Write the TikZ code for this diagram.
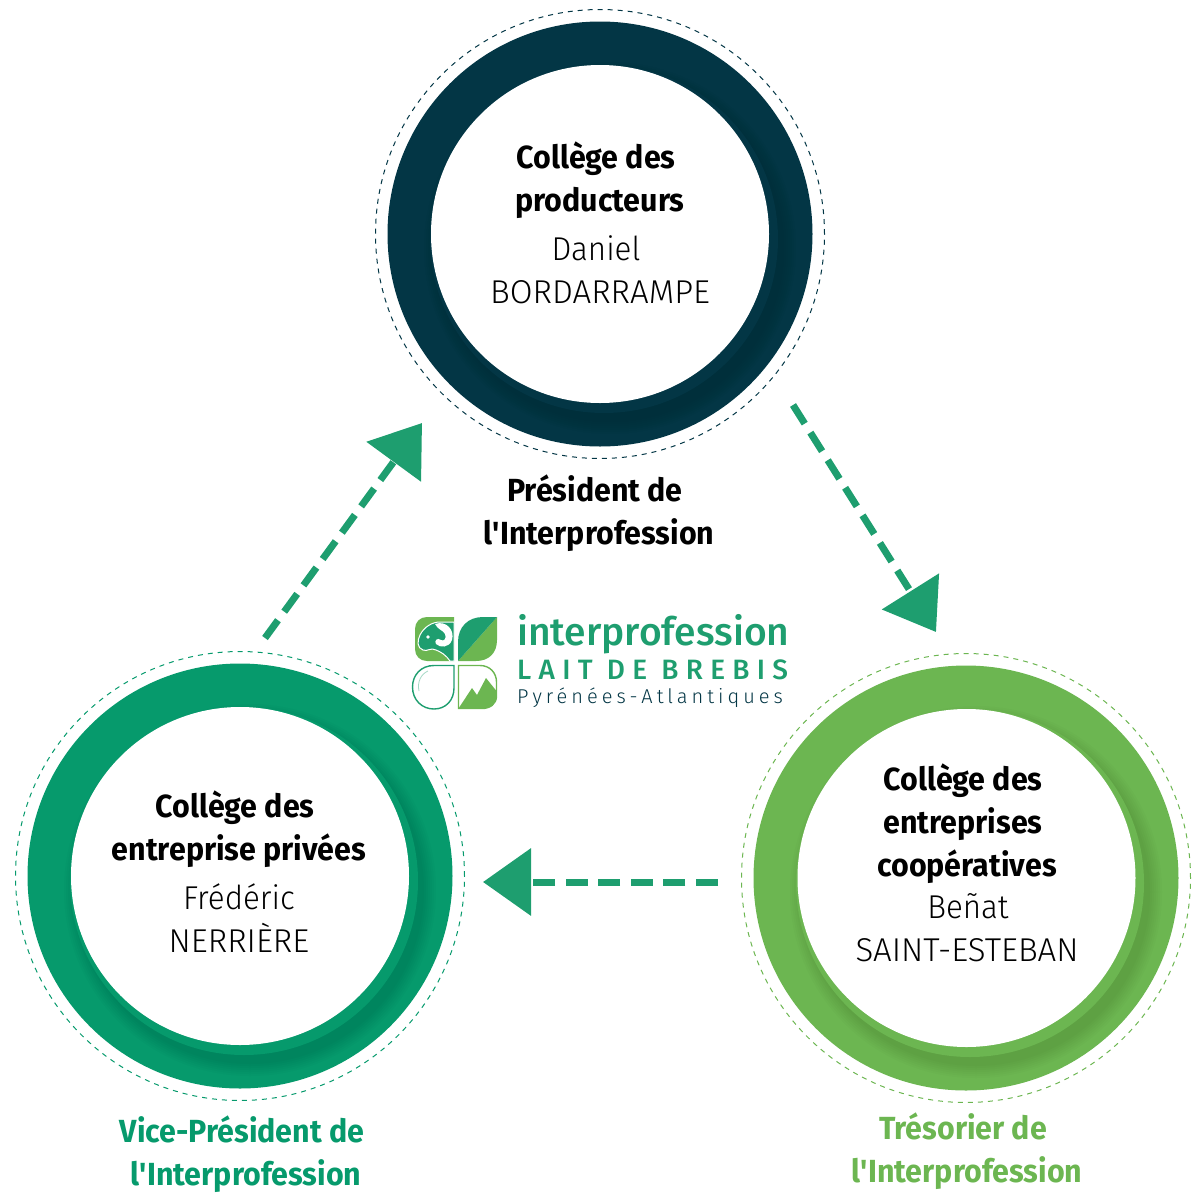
\documentclass[tikz,border=0pt]{standalone}
\usepackage{fontspec}
\setmainfont{Fira Sans}[FakeStretch=0.95]
\newfontfamily\namefont{Fira Sans Light}
\newfontfamily\nametight{Fira Sans Light}[FakeStretch=0.95]
\newfontfamily\logobig{Fira Sans Medium}
\newfontfamily\logomid{Fira Sans Medium}[LetterSpace=26]
\newfontfamily\logosmall{Fira Sans Light}[LetterSpace=20]
\usetikzlibrary{arrows.meta}
\definecolor{navy}{HTML}{033645}
\definecolor{teal}{HTML}{069A6C}
\definecolor{leaf}{HTML}{6CB651}
\definecolor{arrowgreen}{HTML}{1E9E6F}
\tikzset{
  x=1pt,y=-1pt,
  head/.style={line width=7pt,arrowgreen,dash pattern=on 22pt off 10.6pt,
    -{Triangle[length=48pt,width=66pt]}},
  bold/.style={anchor=base,inner sep=0pt,font=\fontsize{32}{38}\selectfont\bfseries},
  plain/.style={anchor=base,inner sep=0pt,font=\fontsize{33}{38}\selectfont\namefont},
  plaintight/.style={anchor=base,inner sep=0pt,font=\fontsize{33}{38}\selectfont\nametight},
  hole/.style={circle,fill=white,minimum size=338pt,inner sep=0pt},
  halo/.style={line width=1pt,dash pattern=on 5pt off 5pt},
}
\newcommand{\ringdisc}[3]{% centre x, centre y, colour
  \fill[#3] (#1,#2) circle (212.5pt);
  \draw[halo,#3] (#1,#2) circle (224.5pt);
  \begin{scope}
    \clip (#1,#2) circle (212.5pt);
    \foreach \r in {186,184,...,174}
      \fill[black,opacity=.016] (#1+10,#2+14) circle (\r pt);
  \end{scope}
  \fill[#3] (#1+4,#2+5) circle (174pt);
}
\begin{document}
\begin{tikzpicture}
\useasboundingbox (0,0) rectangle (1200,1200);
% rings
\ringdisc{600}{234}{navy}
\ringdisc{240}{876}{teal}
\ringdisc{966}{878}{leaf}
\node[hole] (top) at (600,234) {};
\node[hole] (left) at (240,876) {};
\node[hole] (right) at (966.5,878) {};
% text
\node[bold] (t1) at (596,168) {Collège des};
\node[bold] (t2) at (600,211) {producteurs};
\node[plaintight] (t3) at (596,260) {Daniel};
\node[plain] (t4) at (600,303) {BORDARRAMPE};
\node[bold] (t5) at (595,501) {Président de};
\node[bold] (t6) at (599,544) {l\textquotesingle Interprofession};
\node[bold] (l1) at (235,817) {Collège des};
\node[bold] (l2) at (239,860) {entreprise privées};
\node[plaintight] (l3) at (239,909) {Frédéric};
\node[plain] (l4) at (239,952) {NERRIÈRE};
\node[bold,teal] (l5) at (242,1142) {Vice-Président de};
\node[bold,teal] (l6) at (246,1185) {l\textquotesingle Interprofession};
\node[bold] (r1) at (963,790) {Collège des};
\node[bold] (r2) at (963,833) {entreprises};
\node[bold] (r3) at (967,876) {coopératives};
\node[plaintight] (r4) at (968,918) {Beñat};
\node[plain] (r5) at (967,961) {SAINT-ESTEBAN};
\node[bold,leaf] (r6) at (963,1139) {Trésorier de};
\node[bold,leaf] (r7) at (967,1182) {l\textquotesingle Interprofession};
% connectors
\coordinate (a1) at (265,638); \coordinate (a1e) at (422,423);
\coordinate (a2) at (793,405); \coordinate (a2e) at (936,632);
\coordinate (a3) at (718,882); \coordinate (a3e) at (483,882);
\draw[head] (a1) -- (a1e);
\draw[head] (a2) -- (a2e);
\draw[head] (a3) -- (a3e);
% logo
\fill[leaf] (454,617) -- (427,617) .. controls (420,617) and (415,622) .. (415,629) -- (415,649) .. controls (415,656) and (420,661) .. (427,661) -- (454,661) -- cycle;
\fill[arrowgreen,draw=white,line width=1pt] (450,661) .. controls (446,655) and (441,652) .. (436,650) .. controls (431,647) and (427,652) .. (423,650) .. controls (417,648) and (417,641) .. (420,635) .. controls (424,627) and (432,622) .. (440,622) -- (454,622) -- (454,661) -- cycle;
\fill[white] (435,624) .. controls (446,620) and (455,630) .. (452,640) .. controls (449,648) and (440,648) .. (436,644) .. controls (434,641) and (437,637) .. (441,640) .. controls (444,642) and (447,638) .. (445,634) .. controls (443,630) and (438,630) .. (435,624) -- cycle;
\fill[white] (428,637) circle (1.8pt);
\fill[leaf] (497,617) -- (497,640) .. controls (497,653) and (489,661) .. (476,661) -- (458,661) -- cycle;
\fill[arrowgreen] (497,617) -- (458,661) -- (458,642) .. controls (458,627) and (468,617) .. (483,617) -- cycle;
\draw[arrowgreen,line width=1.4pt] (454,665.5) -- (434,665.5) .. controls (421,665.5) and (412.5,675) .. (412.5,687) .. controls (412.5,700) and (422,709) .. (434,709) .. controls (446,709) and (454,700) .. (454,688) -- cycle;
\draw[white!60!arrowgreen,line width=.8pt] (419,691) .. controls (417,682) and (421,674) .. (428,671);
\draw[leaf,line width=1.4pt] (458.5,665.5) -- (480,665.5) .. controls (490,665.5) and (496.5,673) .. (496.5,682) -- (496.5,696) .. controls (496.5,704) and (490,708.5) .. (482,708.5) -- (458.5,708.5) -- cycle;
\fill[leaf] (458.5,708.5) -- (472,688) -- (477,695) -- (486,678) -- (496.5,691) -- (496.5,696) .. controls (496.5,704) and (490,708.5) .. (482,708.5) -- cycle;
\node[anchor=base west,inner sep=0pt,arrowgreen,font=\fontsize{39}{40}\selectfont\logobig] (lg1) at (517,645) {interprofession};
\node[anchor=base west,inner sep=0pt,arrowgreen,font=\fontsize{28}{30}\selectfont\logomid] (lg2) at (517,679) {LAIT DE BREBIS};
\node[anchor=base west,inner sep=0pt,navy,font=\fontsize{20}{24}\selectfont\logosmall] (lg3) at (517,703) {Pyrénées-Atlantiques};
\end{tikzpicture}
\end{document}
